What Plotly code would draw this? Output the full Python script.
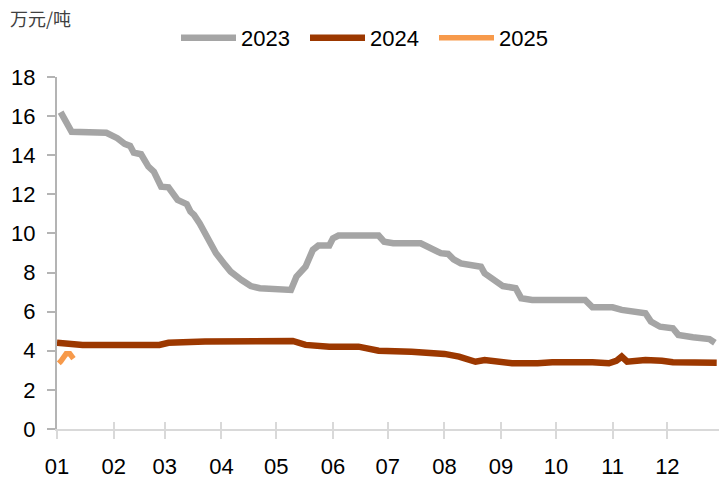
import plotly.graph_objects as go

YEAR = "2023"

dates_2023 = ["01-03","01-05","01-09","01-28","02-03","02-07","02-10","02-12","02-16","02-20",
              "02-23","02-27","03-03","03-08","03-13","03-15","03-17","03-20","03-22","03-24",
              "03-26","03-29","04-03","04-06","04-12","04-17","04-22","05-09","05-12","05-17",
              "05-21","05-24","05-30","06-01","06-04","06-26","06-29","07-04","07-19","07-23",
              "07-27","07-30","08-03","08-06","08-10","08-21","08-23","08-29","09-02","09-09",
              "09-12","09-18","10-17","10-21","11-01","11-06","11-19","11-22","11-27","12-04",
              "12-07","12-15","12-24","12-27"]
values_2023 = [16.2,15.9,15.2,15.15,14.87,14.58,14.48,14.13,14.05,13.42,
               13.16,12.39,12.36,11.71,11.5,11.12,10.95,10.52,10.18,9.75,
               9.41,8.99,8.39,8.05,7.62,7.31,7.2,7.11,7.79,8.3,
               9.16,9.38,9.38,9.75,9.89,9.89,9.58,9.5,9.5,9.29,
               9.16,8.99,8.95,8.68,8.47,8.3,7.96,7.53,7.31,7.2,
               6.69,6.6,6.6,6.22,6.22,6.09,5.92,5.49,5.23,5.15,
               4.81,4.69,4.6,4.41]

dates_2024 = ["01-01","01-15","02-26","03-03","03-23","04-10","05-10","05-17","05-30","06-15",
              "06-22","06-26","07-14","08-01","08-09","08-18","08-23","09-07","09-21","09-29",
              "10-21","10-30","11-03","11-06","11-09","11-19","11-28","12-04","12-28"]
values_2024 = [4.41,4.30,4.30,4.41,4.47,4.5,4.5,4.30,4.21,4.21,
               4.08,4.0,3.95,3.84,3.7,3.44,3.53,3.36,3.36,3.41,
               3.41,3.36,3.48,3.7,3.44,3.53,3.49,3.41,3.39]

dates_2025 = ["01-02","01-03","01-06","01-08","01-10"]
values_2025 = [3.36,3.45,3.85,3.85,3.6]

month_ticks = ["01","02","03","04","05","06","07","08","09","10","11","12"]
y_ticks = [0,2,4,6,8,10,12,14,16,18]

series = [("2023", dates_2023, values_2023, "#A5A5A5", 6.5),
          ("2024", dates_2024, values_2024, "#9C3800", 6.5),
          ("2025", dates_2025, values_2025, "#F79A4B", 5.5)]

FONT = "Liberation Sans, Arial, sans-serif"
x_range = [f"{YEAR}-01-01", f"{YEAR}-12-29 06:00"]
x_tickvals = [f"{YEAR}-{m}-01" for m in month_ticks]

fig = go.Figure()
for name, d, v, color, w in series:
    fig.add_trace(go.Scatter(
        x=[f"{YEAR}-{s}" for s in d], y=v, name=name, mode="lines",
        line=dict(color=color, width=w), hoverinfo="skip"))
# empty helper trace so the overlay axis (inner half of crossing ticks) is drawn
fig.add_trace(go.Scatter(x=[], y=[], xaxis="x2", showlegend=False, hoverinfo="skip"))

fig.update_layout(
    width=719, height=480,
    margin=dict(l=57, r=0, t=77, b=51, autoexpand=False),
    paper_bgcolor="white", plot_bgcolor="white",
    font=dict(family=FONT, size=22, color="#000000"),
    showlegend=True,
    legend=dict(orientation="h", xref="container", yref="container",
                x=176/719, y=1-38/480, xanchor="left", yanchor="middle",
                font=dict(size=22), itemwidth=55, traceorder="normal",
                entrywidth=59, entrywidthmode="pixels",
                bgcolor="rgba(0,0,0,0)"),
    xaxis=dict(type="date", automargin=False, range=x_range,
               tickvals=x_tickvals, ticktext=month_ticks,
               showgrid=False, zeroline=False,
               showline=True, linecolor="#D9D9D9", linewidth=2,
               ticks="outside", ticklen=8, tickcolor="#D9D9D9", tickwidth=2,
               ticklabelstandoff=9,
               tickfont=dict(size=22), fixedrange=True),
    xaxis2=dict(type="date", automargin=False, range=x_range, overlaying="x",
                side="bottom", anchor="y",
                tickvals=x_tickvals, showticklabels=False,
                showgrid=False, zeroline=False, showline=False,
                ticks="inside", ticklen=7, tickcolor="#D9D9D9", tickwidth=2,
                fixedrange=True),
    yaxis=dict(range=[0, 18], automargin=False,
               tickvals=y_ticks, ticktext=[str(t) for t in y_ticks],
               showgrid=False, zeroline=False,
               showline=True, linecolor="#B4B4B4", linewidth=2,
               ticks="outside", ticklen=8, tickcolor="#B4B4B4", tickwidth=2,
               ticklabelstandoff=7,
               tickfont=dict(size=22), fixedrange=True),
    annotations=[dict(text="万元/吨", xref="paper", yref="paper",
                      x=(8-57)/662, y=(429-18)/352, xanchor="left", yanchor="middle",
                      showarrow=False,
                      font=dict(family="Noto Sans CJK SC", size=18, color="#404040"))],
)

fig.write_html("out.html", config={"displayModeBar": False},
               post_script="document.body.style.margin='0';document.body.style.overflow='hidden';")
